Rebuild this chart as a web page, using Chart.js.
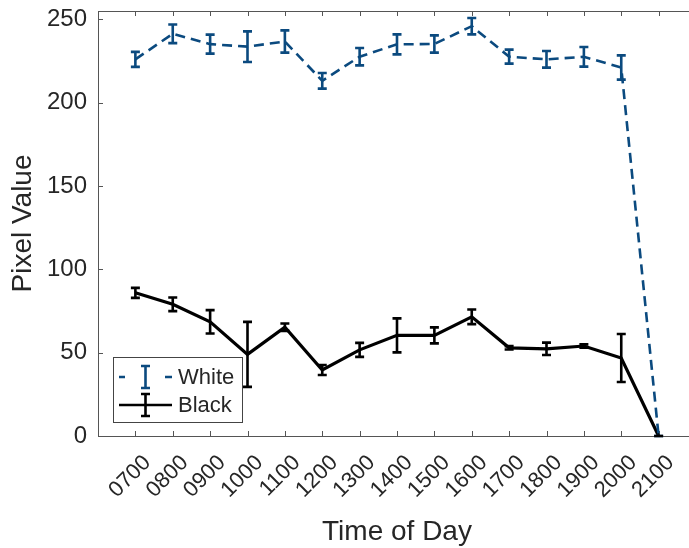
<!DOCTYPE html>
<html><head><meta charset="utf-8">
<script src="https://cdn.jsdelivr.net/npm/chart.js@4"></script>
<style>html,body{margin:0;padding:0;overflow:hidden;background:#fff}
#wrap{width:700px;height:548px}</style></head>
<body><div id="wrap"><canvas id="c" width="700" height="548"></canvas></div>
<script>
const timeLabels = ['0700','0800','0900','1000','1100','1200','1300','1400','1500','1600','1700','1800','1900','2000','2100'];
const whiteMean = [226,241.3,235.1,233.6,236.7,213.1,227.6,235,235.2,245.9,227.6,226,227.5,221.1,0];
const whiteErr  = [4.5,5.6,5.7,9.2,6.7,4.7,5.2,6,5.2,4.9,4.2,5,5.9,7.3,0];
const blackMean = [85.9,79,68.5,49,65.3,39.6,51.7,60.4,60.4,71.5,52.9,52.3,54,46.8,0];
const blackErr  = [3,4.1,7,19.5,2.2,3,4.2,10.2,4.8,4.4,1,3.7,1,14.4,0];
const yTicks = [0,50,100,150,200,250];
const seriesNames = ['White','Black'];

const BLUE = '#0b4a7f';
const BLACK = '#000000';
const TEXT = '#262626';
const AXIS = '#555555';
const FONT = "'Liberation Sans', Arial, sans-serif";

const errs = [whiteErr, blackErr];

const plugin = {
  id: 'matlabish',
  beforeDatasetsDraw(chart) {
    const {ctx, chartArea: a, scales: {x, y}} = chart;
    ctx.save();
    ctx.strokeStyle = AXIS; ctx.lineWidth = 1;
    ctx.strokeRect(a.left + 0.5, a.top + 0.5, a.right - a.left, a.bottom - a.top);
    ctx.beginPath();
    timeLabels.forEach((l, i) => {
      const px = Math.round(x.getPixelForValue(i + 1)) + 0.5;
      ctx.moveTo(px, a.bottom); ctx.lineTo(px, a.bottom - 5);
      ctx.moveTo(px, a.top); ctx.lineTo(px, a.top + 5);
    });
    yTicks.forEach(v => {
      const py = Math.round(y.getPixelForValue(v)) + 0.5;
      ctx.moveTo(a.left, py); ctx.lineTo(a.left + 5, py);
      ctx.moveTo(a.right, py); ctx.lineTo(a.right - 5, py);
    });
    ctx.stroke();
    ctx.restore();
  },
  afterDatasetsDraw(chart) {
    const {ctx, scales: {x, y}} = chart;
    ctx.save();
    chart.data.datasets.forEach((ds, di) => {
      ctx.strokeStyle = ds.borderColor; ctx.lineWidth = 2.6; ctx.setLineDash([]);
      ds.data.forEach((p, i) => {
        const e = errs[di][i];
        const px = x.getPixelForValue(p.x);
        const t = y.getPixelForValue(p.y + e), b = y.getPixelForValue(p.y - e);
        ctx.beginPath();
        ctx.moveTo(px, t); ctx.lineTo(px, b);
        ctx.moveTo(px - 4.5, t); ctx.lineTo(px + 4.5, t);
        ctx.moveTo(px - 4.5, b); ctx.lineTo(px + 4.5, b);
        ctx.stroke();
      });
    });
    ctx.restore();
  },
  afterDraw(chart) {
    const {ctx} = chart;
    ctx.save();
    const bx = 113, by = 357, bw = 129, bh = 65;
    ctx.fillStyle = '#fff'; ctx.fillRect(bx, by, bw, bh);
    ctx.strokeStyle = '#444'; ctx.lineWidth = 1;
    ctx.strokeRect(bx + 0.5, by + 0.5, bw, bh);
    const rows = [{y: 377, c: BLUE, dash: [7, 6]}, {y: 405, c: BLACK, dash: []}];
    rows.forEach((r, i) => {
      ctx.strokeStyle = r.c; ctx.lineWidth = 2.6;
      ctx.beginPath();
      if (r.dash.length) {
        ctx.moveTo(119, r.y); ctx.lineTo(125, r.y);
        ctx.moveTo(165, r.y); ctx.lineTo(172, r.y);
      } else {
        ctx.moveTo(119, r.y); ctx.lineTo(172, r.y);
      }
      ctx.stroke();
      ctx.beginPath();
      ctx.moveTo(145.5, r.y - 11); ctx.lineTo(145.5, r.y + 11);
      ctx.moveTo(141, r.y - 11); ctx.lineTo(150, r.y - 11);
      ctx.moveTo(141, r.y + 11); ctx.lineTo(150, r.y + 11);
      ctx.stroke();
      ctx.fillStyle = TEXT; ctx.font = '22px ' + FONT;
      ctx.textBaseline = 'middle'; ctx.textAlign = 'left';
      ctx.fillText(seriesNames[i], 178, r.y + 1);
    });
    ctx.restore();
  }
};

new Chart(document.getElementById('c'), {
  type: 'line',
  data: {
    datasets: [
      {label: seriesNames[0], data: whiteMean.map((v, i) => ({x: i + 1, y: v})),
       borderColor: BLUE, borderWidth: 2.6, borderDash: [10, 6], pointRadius: 0, tension: 0, fill: false},
      {label: seriesNames[1], data: blackMean.map((v, i) => ({x: i + 1, y: v})),
       borderColor: BLACK, borderWidth: 3.2, pointRadius: 0, tension: 0, fill: false}
    ]
  },
  options: {
    responsive: false, animation: false, devicePixelRatio: 1,
    layout: {padding: {top: 11, right: 4, left: 0, bottom: 0}},
    plugins: {legend: {display: false}, tooltip: {enabled: false}},
    scales: {
      x: {
        type: 'linear', min: 0, max: 16,
        afterBuildTicks: s => { s.ticks = timeLabels.map((l, i) => ({value: i + 1})); },
        afterFit: s => { s.height = 112; s.paddingLeft = 0; s.paddingRight = 0; },
        grid: {display: false, drawTicks: false, tickLength: 0}, border: {display: false},
        ticks: {autoSkip: false, maxRotation: 45, minRotation: 45, padding: 14, labelOffset: 12,
                color: TEXT, font: {family: FONT, size: 22},
                callback: v => timeLabels[v - 1]},
        title: {display: true, text: 'Time of Day', color: TEXT, font: {family: FONT, size: 28, lineHeight: 1.1}, padding: {top: 0, bottom: 0}}
      },
      y: {
        min: 0, max: 255,
        afterBuildTicks: s => { s.ticks = yTicks.map(v => ({value: v})); },
        afterFit: s => { s.width = 98; s.paddingTop = 0; s.paddingBottom = 0; },
        grid: {display: false, drawTicks: false, tickLength: 0}, border: {display: false},
        ticks: {padding: 11, color: TEXT, font: {family: FONT, size: 24}},
        title: {display: true, text: 'Pixel Value', color: TEXT, font: {family: FONT, size: 28}, padding: {top: 6, bottom: 0}}
      }
    }
  },
  plugins: [plugin]
});
</script>
</body></html>
